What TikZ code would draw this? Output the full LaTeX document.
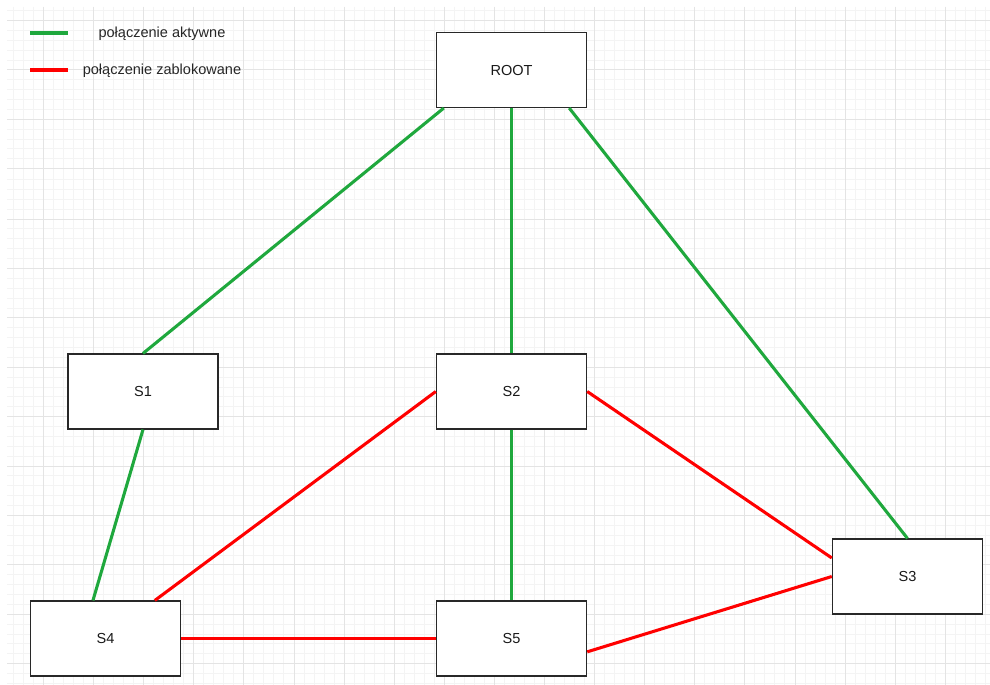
\documentclass[tikz,border=0pt]{standalone}
\usepackage{fontspec}
\setmainfont{Liberation Sans}
\begin{document}
\definecolor{linkgreen}{RGB}{31,168,61}
\definecolor{linkred}{RGB}{255,0,0}
\definecolor{gridmajor}{RGB}{228,228,228}
\definecolor{gridminor}{RGB}{244,244,244}
\definecolor{boxline}{RGB}{40,40,40}
\begin{tikzpicture}[x=0.75pt,y=-0.75pt,
  switchbox/.style={draw=boxline,line width=1.1pt,fill=white,inner sep=0pt,
    minimum width=112.5pt,minimum height=56pt,font=\fontsize{10.9pt}{13pt}\selectfont,text=black!90},
  active/.style={linkgreen,line width=2.3pt},
  blocked/.style={linkred,line width=2.3pt},
  legendline/.style={line width=3pt},
  legendtext/.style={font=\fontsize{10.9pt}{13pt}\selectfont,text=black!85,inner sep=0pt},
  minorgrid/.style={gridminor,line width=0.75pt},
  majorgrid/.style={gridmajor,line width=0.75pt}]
\useasboundingbox (0,0) rectangle (990,685);
\fill[white] (0,0) rectangle (990,685);

% background grid, snapped to whole pixels
\begin{scope}
  \clip (7,7) rectangle (990,685);
  \foreach \i in {-3,...,94} \draw[minorgrid] ({round(43+10.02*\i)},7) -- ({round(43+10.02*\i)},685);
  \foreach \j in {-1,...,67} \draw[minorgrid] (7,{round(21+9.88*\j)}) -- (990,{round(21+9.88*\j)});
  \foreach \i in {0,...,18} \draw[majorgrid] ({round(43+50.1*\i)},7) -- ({round(43+50.1*\i)},685);
  \foreach \j in {0,...,13} \draw[majorgrid] (7,{round(21+49.4*\j)}) -- (990,{round(21+49.4*\j)});
\end{scope}

% legend
\coordinate (ga) at (30,33);
\coordinate (gb) at (68,33);
\coordinate (ra) at (30,70);
\coordinate (rb) at (68,70);
\draw[legendline,linkgreen] (ga) -- (gb);
\draw[legendline,linkred] (ra) -- (rb);
\node[legendtext] (lgreen) at (162,34) {połączenie aktywne};
\node[legendtext] (lred) at (162,71) {połączenie zablokowane};

% switches
\node[switchbox] (root) at (511.5,70) {ROOT};
\node[switchbox] (s1) at (143,391.5) {S1};
\node[switchbox] (s2) at (511.5,391.5) {S2};
\node[switchbox] (s3) at (907.5,576.5) {S3};
\node[switchbox] (s4) at (105.5,638.5) {S4};
\node[switchbox] (s5) at (511.5,638.5) {S5};

% active links
\draw[active] ([xshift=6pt]root.south west) -- (s1.north);
\draw[active] (root.south) -- (s2.north);
\draw[active] ([xshift=-13.5pt]root.south east) -- (s3.north);
\draw[active] (s1.south) -- ([xshift=-9.4pt]s4.north);
\draw[active] (s2.south) -- (s5.north);

% blocked links
\draw[blocked] (s2.west) -- ([xshift=37pt]s4.north);
\draw[blocked] (s2.east) -- ([yshift=13.9pt]s3.west);
\draw[blocked] (s4.east) -- (s5.west);
\draw[blocked] ([yshift=-10pt]s5.east) -- (s3.west);
\end{tikzpicture}
\end{document}
